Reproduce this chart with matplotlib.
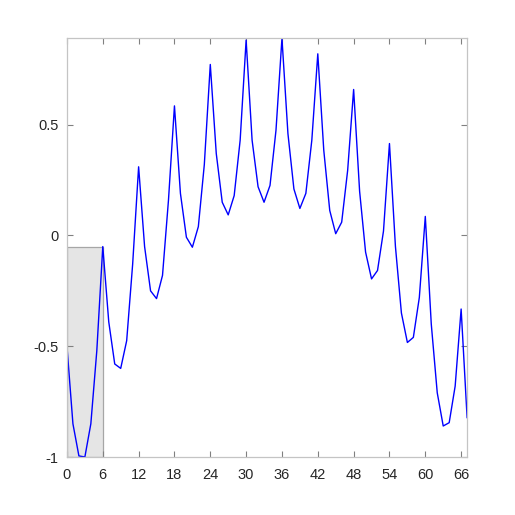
import matplotlib
matplotlib.use("Agg")
import matplotlib.pyplot as plt
from matplotlib.patches import Rectangle
import numpy as np

# data
values = [-0.50, -0.85, -0.995, -1.00, -0.85, -0.52,
          -0.05, -0.39, -0.58, -0.60, -0.475, -0.13,
          0.31, -0.05, -0.25, -0.285, -0.18, 0.16,
          0.585, 0.19, -0.008, -0.053, 0.04, 0.32,
          0.772, 0.37, 0.15, 0.093, 0.18, 0.43,
          0.882, 0.43, 0.22, 0.15, 0.226, 0.475,
          0.89, 0.46, 0.21, 0.122, 0.19, 0.43,
          0.82, 0.385, 0.113, 0.008, 0.06, 0.294,
          0.659, 0.20, -0.075, -0.196, -0.158, 0.02,
          0.415, -0.05, -0.35, -0.483, -0.46, -0.28,
          0.086, -0.40, -0.71, -0.86, -0.845, -0.68,
          -0.332, -0.822]
x = list(range(len(values)))
highlight_start = 0
highlight_end = 6
xticks = [0, 6, 12, 18, 24, 30, 36, 42, 48, 54, 60, 66]
yticks = [-1, -0.5, 0, 0.5]
ytick_labels = ["-1", "-0.5", "0", "0.5"]

plt.rcParams['font.family'] = ['Liberation Sans', 'DejaVu Sans']
fig = plt.figure(figsize=(5.15, 5.15), dpi=100)
ax = fig.add_axes([0.130, 0.1126, 0.777, 0.8130])

ymin, ymax = min(values), max(values)
ax.add_patch(Rectangle((x[highlight_start], ymin),
                       x[highlight_end] - x[highlight_start],
                       values[highlight_end] - ymin,
                       facecolor='#e5e5e5', edgecolor='#a6a6a6', linewidth=0.9, zorder=1))
ax.plot(x, values, color='#0000ff', linewidth=1.0, zorder=2)

ax.set_xlim(x[0], x[-1])
ax.set_ylim(ymin, ymax)
ax.set_xticks(xticks)
ax.set_yticks(yticks)
ax.set_yticklabels(ytick_labels)
for s in ax.spines.values():
    s.set_color('#c4c4c4')
    s.set_linewidth(0.9)
ax.tick_params(direction='in', top=True, right=True, length=4, width=0.8,
               color='#808080', labelcolor='#262626', labelsize=10.5)
ax.tick_params(axis='x', pad=8)
ax.tick_params(axis='y', pad=6)
fig.savefig('out.png', dpi=100)
